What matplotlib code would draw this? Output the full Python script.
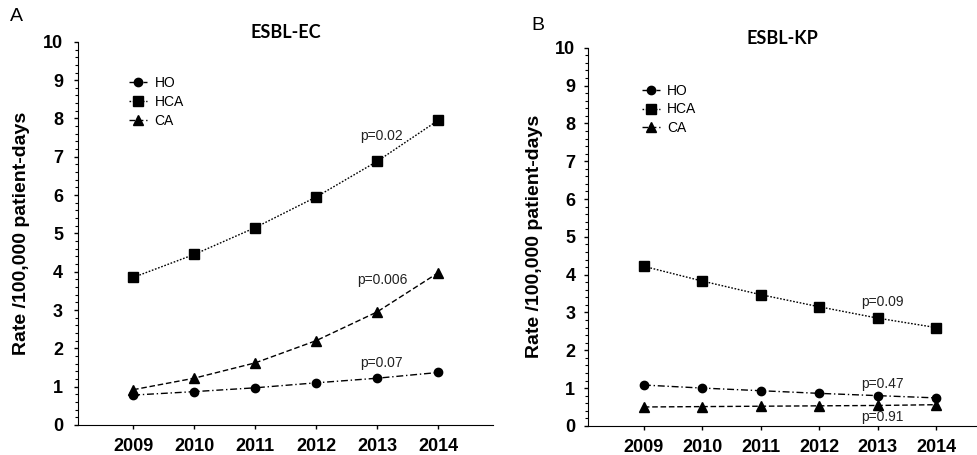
import matplotlib.pyplot as plt
from matplotlib.ticker import MultipleLocator

years = [2009, 2010, 2011, 2012, 2013, 2014]

# panel A, ESBL-EC
ec_ho = [0.78, 0.87, 0.97, 1.10, 1.22, 1.37]
ec_hca = [3.85, 4.45, 5.15, 5.95, 6.88, 7.95]
ec_ca = [0.92, 1.22, 1.62, 2.20, 2.95, 3.97]
ec_pvals = [("p=0.02", 2013.08, 7.55), ("p=0.006", 2013.08, 3.78), ("p=0.07", 2013.08, 1.62)]

# panel B, ESBL-KP
kp_ho = [1.08, 1.00, 0.93, 0.86, 0.80, 0.74]
kp_hca = [4.22, 3.83, 3.47, 3.15, 2.85, 2.60]
kp_ca = [0.50, 0.51, 0.52, 0.53, 0.54, 0.56]
kp_pvals = [("p=0.09", 2013.08, 3.28), ("p=0.47", 2013.08, 1.11), ("p=0.91", 2013.08, 0.24)]

plt.rcParams['font.family'] = ['Liberation Sans', 'DejaVu Sans']


def panel(ax, ho, hca, ca, pvals, title, letter, letter_pos, leg_pos, xlim, ypad):
    ax.plot(years, ho, color='k', lw=1, ls=(0, (5, 2, 1, 2)), marker='o', ms=6, label="HO")
    ax.plot(years, hca, color='k', lw=1, ls=(0, (1.2, 1.2)), marker='s', ms=6.5, label="HCA")
    ax.plot(years, ca, color='k', lw=1, ls=(0, (4, 2)), marker='^', ms=6.5, label="CA")

    for txt, x, y in pvals:
        ax.text(x, y, txt, ha='center', va='center', fontsize=10, color='#222222')

    ax.set_xlim(*xlim)
    ax.set_ylim(0, 10)
    ax.set_xticks(years)
    ax.yaxis.set_major_locator(MultipleLocator(1))
    ax.yaxis.set_minor_locator(MultipleLocator(0.2))
    ax.tick_params(axis='both', labelsize=13, width=1, length=3)
    ax.tick_params(axis='x', pad=6.5)
    ax.tick_params(axis='y', which='major', pad=ypad)
    ax.tick_params(axis='y', which='minor', length=2, width=0.8)
    for lab in ax.get_xticklabels() + ax.get_yticklabels():
        lab.set_fontweight('bold')
    ax.spines['top'].set_visible(False)
    ax.spines['right'].set_visible(False)
    ax.set_ylabel("Rate /100,000 patient-days", fontsize=14, fontweight='bold', labelpad=9)
    ax.set_title(title, fontsize=13, fontweight='bold', family=['Lato', 'DejaVu Sans'], pad=3)
    ax.text(letter_pos[0], letter_pos[1], letter, transform=ax.transAxes, fontsize=14,
            ha='left', va='center')
    ax.legend(loc='upper left', bbox_to_anchor=leg_pos, frameon=False, fontsize=10,
              handlelength=1.3, handletextpad=0.5, labelspacing=0.35, borderaxespad=0)


fig = plt.figure(figsize=(9.78, 4.55), dpi=100)
ax1 = fig.add_axes([0.080, 0.066, 0.424, 0.842])
ax2 = fig.add_axes([0.601, 0.064, 0.398, 0.831])

panel(ax1, ec_ho, ec_hca, ec_ca, ec_pvals, "ESBL-EC", "A", (-0.165, 1.065),
      (0.11, 0.925), (2008.1, 2014.9), 8)
panel(ax2, kp_ho, kp_hca, kp_ca, kp_pvals, "ESBL-KP", "B", (-0.145, 1.06),
      (0.125, 0.92), (2008.04, 2014.7), 6)

plt.savefig("out.png", dpi=100)
